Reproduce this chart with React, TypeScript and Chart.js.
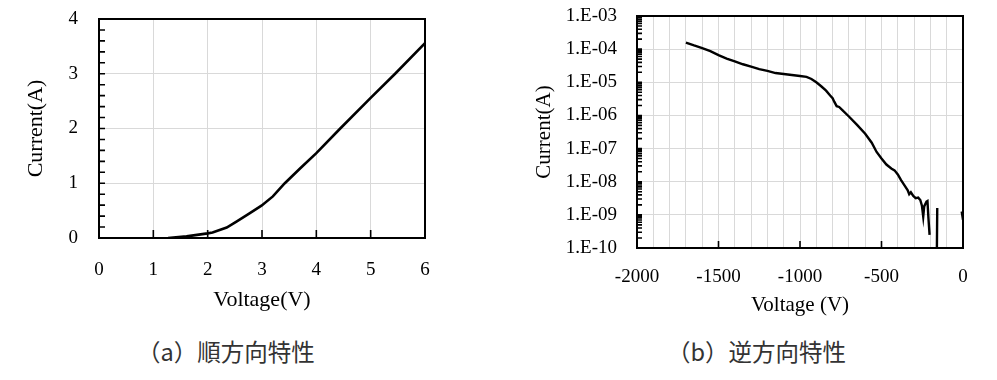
import React, { useEffect, useRef } from 'react';
import { Chart, registerables } from 'chart.js';

Chart.register(...registerables);

// ---- Forward characteristic (a) ----
const fwdVoltage = [1.27, 1.61, 2.0, 2.09, 2.35, 2.53, 2.77, 2.99, 3.2, 3.42, 3.7, 4.0, 4.44, 5.0, 5.45, 6.0];
const fwdCurrent = [0, 0.03, 0.085, 0.1, 0.19, 0.3, 0.45, 0.59, 0.76, 1.0, 1.27, 1.55, 2.0, 2.56, 3.0, 3.56];
const fwdXTickLabels = [0, 1, 2, 3, 4, 5, 6];
const fwdYTickLabels = [0, 1, 2, 3, 4];

// ---- Reverse characteristic (b) ----
const revVoltage = [
  -1700, -1650, -1600, -1550, -1500, -1450, -1400, -1350, -1300, -1250, -1200, -1150, -1100, -1050, -1000,
  -960, -930, -900, -870, -840, -815, -800, -790, -775, -760, -740, -700, -650, -600, -560, -530, -500,
  -470, -440, -420, -400, -380, -360, -340, -330, -320, -305, -290, -275, -262, -252, -244, -238, -232,
  -224, -218, -212, -205, -190, -162, -158, -100, -8, 0,
];
const revCurrent: (number | null)[] = [
  1.58e-4, 1.29e-4, 1.07e-4, 8.7e-5, 6.6e-5, 5.2e-5, 4.3e-5, 3.5e-5, 2.95e-5, 2.5e-5, 2.2e-5, 1.9e-5, 1.78e-5, 1.66e-5, 1.55e-5,
  1.45e-5, 1.26e-5, 1.0e-5, 7.6e-6, 5.6e-6, 4.0e-6, 3.3e-6, 2.6e-6, 1.9e-6, 1.8e-6, 1.45e-6, 9.3e-7, 5.2e-7, 2.8e-7, 1.5e-7, 7.9e-8, 5.0e-8,
  3.3e-8, 2.5e-8, 2.2e-8, 1.66e-8, 1.12e-8, 7.9e-9, 5.6e-9, 4.2e-9, 4.8e-9, 3.7e-9, 3.2e-9, 3.3e-9, 2.8e-9, 1.9e-9, 8.9e-10, 1.8e-9, 2.1e-9,
  2.5e-9, 2.6e-9, 7.9e-10, 2.5e-10, null, 1e-11, 1.6e-9, null, 1.26e-9, 7.1e-10,
];
const revXTickLabels = [-2000, -1500, -1000, -500, 0];
const revYTickLabels = ['1.E-10', '1.E-09', '1.E-08', '1.E-07', '1.E-06', '1.E-05', '1.E-04', '1.E-03'];

const captionA = '（a）順方向特性';
const captionB = '（b）逆方向特性';

const GRID = '#d9d9d9';
const CLEAR = 'rgba(0,0,0,0)';
const SERIF = '"Liberation Serif", "Times New Roman", serif';

const isInt = (v: number) => Math.abs(v - Math.round(v)) < 1e-6;

type FrameCfg = {
  xLen: number;
  yLen: number;
  xShow: (v: number) => boolean;
  yShow: (v: number) => boolean;
};

// Inward tick marks (taken from the scales' own ticks) plus the plot frame.
const makeFramePlugin = (cfg: FrameCfg) => ({
  id: 'frame',
  afterDraw(chart: any) {
    const { ctx, chartArea, scales } = chart;
    const { left, top, right, bottom } = chartArea;
    ctx.save();
    ctx.strokeStyle = '#000';
    ctx.lineWidth = 1.6;
    ctx.beginPath();
    scales.x.ticks.forEach((t: any) => {
      if (!cfg.xShow(t.value)) return;
      const px = scales.x.getPixelForValue(t.value);
      ctx.moveTo(px, bottom);
      ctx.lineTo(px, bottom - cfg.xLen);
    });
    scales.y.ticks.forEach((t: any) => {
      if (!cfg.yShow(t.value)) return;
      const py = scales.y.getPixelForValue(t.value);
      ctx.moveTo(left, py);
      ctx.lineTo(left + cfg.yLen, py);
    });
    ctx.stroke();
    ctx.lineWidth = 2;
    ctx.strokeRect(left, top, right - left, bottom - top);
    ctx.restore();
  },
});

const zeroPad = (s: any) => {
  s.paddingTop = 0;
  s.paddingBottom = 0;
  s.paddingLeft = 0;
  s.paddingRight = 0;
};

function ForwardChart() {
  const ref = useRef<HTMLCanvasElement>(null);
  useEffect(() => {
    const chart = new Chart(ref.current!, {
      type: 'line',
      data: {
        datasets: [
          {
            data: fwdVoltage.map((v, i) => ({ x: v, y: fwdCurrent[i] })),
            borderColor: '#000',
            borderWidth: 2.6,
            pointRadius: 0,
            tension: 0,
            fill: false,
          },
        ],
      },
      options: {
        animation: false,
        responsive: false,
        events: [],
        layout: { padding: { left: 0, top: 19, right: 55, bottom: 0 } },
        plugins: { legend: { display: false }, tooltip: { enabled: false } },
        scales: {
          x: {
            type: 'linear',
            min: 0,
            max: 6,
            ticks: {
              stepSize: 1,
              autoSkip: false,
              maxRotation: 0,
              padding: 21,
              color: '#000',
              font: { family: SERIF, size: 19 },
              callback: (v: any) => (fwdXTickLabels.includes(v) ? String(v) : ''),
            },
            grid: { color: GRID, lineWidth: 1, drawTicks: false },
            border: { display: false },
            title: {
              display: true,
              text: 'Voltage(V)',
              color: '#000',
              font: { family: SERIF, size: 22 },
              padding: { top: 0, bottom: 17 },
            },
            afterFit: (s: any) => {
              s.height = 92;
              zeroPad(s);
            },
          },
          y: {
            type: 'linear',
            min: 0,
            max: 4,
            ticks: {
              stepSize: 0.2,
              autoSkip: false,
              padding: 21,
              color: '#000',
              font: { family: SERIF, size: 19 },
              callback: (v: any) => {
                const n = Number(v);
                return isInt(n) && fwdYTickLabels.includes(Math.round(n)) ? String(Math.round(n)) : '';
              },
            },
            grid: {
              color: (c: any) => (isInt(c.tick.value) ? GRID : CLEAR),
              lineWidth: 1,
              drawTicks: false,
            },
            border: { display: false },
            title: {
              display: true,
              text: 'Current(A)',
              color: '#000',
              font: { family: SERIF, size: 22 },
              padding: { top: 23, bottom: 0 },
            },
            afterFit: (s: any) => {
              s.width = 99;
              zeroPad(s);
            },
          },
        },
      },
      plugins: [
        makeFramePlugin({
          xLen: 8,
          yLen: 6,
          xShow: (v) => isInt(v),
          yShow: () => true,
        }),
      ],
    } as any);
    return () => chart.destroy();
  }, []);
  return <canvas ref={ref} width={480} height={330} style={{ position: 'absolute', left: 0, top: 0 }} />;
}

function ReverseChart() {
  const ref = useRef<HTMLCanvasElement>(null);
  useEffect(() => {
    const chart = new Chart(ref.current!, {
      type: 'line',
      data: {
        datasets: [
          {
            data: revVoltage.map((v, i) => ({ x: v, y: revCurrent[i] })),
            borderColor: '#000',
            borderWidth: 2.4,
            pointRadius: 0,
            tension: 0,
            fill: false,
            spanGaps: false,
          },
        ],
      },
      options: {
        animation: false,
        responsive: false,
        events: [],
        layout: { padding: { left: 0, top: 16, right: 34, bottom: 0 } },
        plugins: { legend: { display: false }, tooltip: { enabled: false } },
        scales: {
          x: {
            type: 'linear',
            min: -2000,
            max: 0,
            ticks: {
              stepSize: 100,
              autoSkip: false,
              maxRotation: 0,
              padding: 18,
              color: '#000',
              font: { family: SERIF, size: 19 },
              callback: (v: any) => (revXTickLabels.includes(Number(v)) ? String(v) : ''),
            },
            grid: { color: GRID, lineWidth: 1, drawTicks: false },
            border: { display: false },
            title: {
              display: true,
              text: 'Voltage (V)',
              color: '#000',
              font: { family: SERIF, size: 21 },
              padding: { top: 0, bottom: 12 },
            },
            afterFit: (s: any) => {
              s.height = 82;
              zeroPad(s);
            },
          },
          y: {
            type: 'logarithmic',
            min: 1e-10,
            max: 1e-3,
            afterBuildTicks: (scale: any) => {
              const t: any[] = [];
              for (let e = -10; e <= -3; e++) {
                for (let m = 1; m <= 9; m++) {
                  if (e === -3 && m > 1) break;
                  t.push({ value: m * Math.pow(10, e), major: m === 1 });
                }
              }
              scale.ticks = t;
            },
            ticks: {
              autoSkip: false,
              padding: 20,
              color: '#000',
              font: { family: SERIF, size: 19 },
              callback: (v: any, i: number, ticks: any[]) => {
                if (!ticks[i] || !ticks[i].major) return '';
                const e = Math.round(Math.log10(Number(v)));
                return revYTickLabels[e + 10] ?? '';
              },
            },
            grid: {
              color: (c: any) => (c.tick && c.tick.major ? GRID : CLEAR),
              lineWidth: 1,
              drawTicks: false,
            },
            border: { display: false },
            title: {
              display: true,
              text: 'Current(A)',
              color: '#000',
              font: { family: SERIF, size: 21 },
              padding: { top: 42, bottom: 0 },
            },
            afterFit: (s: any) => {
              s.width = 147;
              zeroPad(s);
            },
          },
        },
      },
      plugins: [
        makeFramePlugin({
          xLen: 7,
          yLen: 5,
          xShow: (v) => Math.round(v) % 500 === 0,
          yShow: () => true,
        }),
      ],
    } as any);
    return () => chart.destroy();
  }, []);
  return <canvas ref={ref} width={507} height={330} style={{ position: 'absolute', left: 490, top: 0 }} />;
}

const captionStyle: React.CSSProperties = {
  position: 'absolute',
  top: 340,
  fontFamily: '"Noto Sans CJK JP", "Noto Sans", sans-serif',
  fontSize: 23.5,
  lineHeight: '23px',
  color: '#333',
  whiteSpace: 'nowrap',
};

export default function App() {
  return (
    <div style={{ position: 'fixed', left: 0, top: 0, width: 997, height: 380, background: '#fff', overflow: 'hidden' }}>
      <ForwardChart />
      <ReverseChart />
      <div style={{ ...captionStyle, left: 137 }}>{captionA}</div>
      <div style={{ ...captionStyle, left: 667 }}>{captionB}</div>
    </div>
  );
}
